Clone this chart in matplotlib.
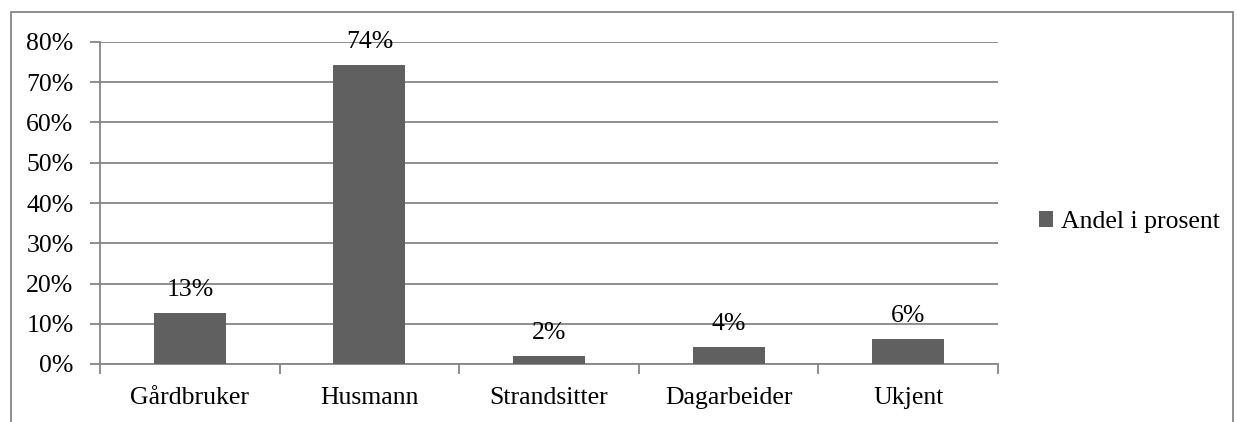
import matplotlib.pyplot as plt
from matplotlib.patches import Rectangle

plt.rcParams['font.family'] = ['Liberation Serif', 'DejaVu Serif']

categories = ['Gårdbruker', 'Husmann', 'Strandsitter', 'Dagarbeider', 'Ukjent']
andel = [12.7, 74.4, 2.1, 4.2, 6.3]
labels = ['13%', '74%', '2%', '4%', '6%']
yticks = [0, 10, 20, 30, 40, 50, 60, 70, 80]

W, H = 1237, 422
fs = 18.5
fig = plt.figure(figsize=(W / 100, H / 100), dpi=100)
ax = fig.add_axes([100 / W, (H - 364) / H, 898 / W, 322 / H])

grey = '#868686'
x = range(len(categories))
ax.bar(x, andel, width=0.4, color='#606060', label='Andel i prosent', zorder=3)
for xi, v, lab in zip(x, andel, labels):
    ax.annotate(lab, (xi, v), xytext=(0, 8.5), textcoords='offset points',
                ha='center', va='bottom', fontsize=fs)

ax.set_xlim(-0.5, len(categories) - 0.5)
ax.set_ylim(0, 80)
ax.set_yticks(yticks)
ax.set_yticklabels([f'{t}%' for t in yticks], fontsize=fs)
ax.yaxis.grid(True, color=grey, linewidth=1.3, zorder=0)
ax.set_xticks([i + 0.5 for i in range(-1, len(categories))])
ax.set_xticklabels([])
ax.set_xticks(list(x), minor=True)
ax.set_xticklabels(categories, minor=True, fontsize=fs)
ax.tick_params(axis='x', which='minor', length=0, pad=16.5)
ax.tick_params(axis='x', which='major', length=7, color=grey, width=1.3)
ax.tick_params(axis='y', length=7, color=grey, width=1.3, pad=12)
for s in ['top', 'right']:
    ax.spines[s].set_visible(False)
for s in ['left', 'bottom']:
    ax.spines[s].set_color(grey)
    ax.spines[s].set_linewidth(1.3)

fig.legend(loc='center left', bbox_to_anchor=(1016 / W, (H - 222) / H),
           frameon=False, fontsize=fs, handlelength=0.55, handleheight=0.55,
           handletextpad=0.3)

fig.patches.append(Rectangle((11, -20), 1222, H - 12 + 20, transform=None,
                             fill=False, edgecolor=grey, linewidth=1.3))

fig.savefig('out.png', dpi=100)
